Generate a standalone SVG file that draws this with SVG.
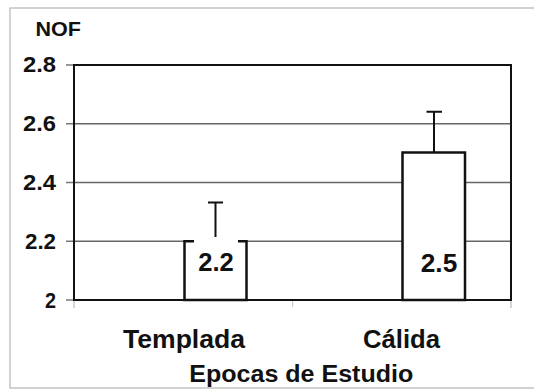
<svg xmlns="http://www.w3.org/2000/svg" width="534" height="391" viewBox="0 0 534 391">
<style>
text{font-family:"Liberation Sans",Arial,sans-serif;font-weight:bold;fill:#111}
.ax{font-size:22px;text-anchor:end}
.grid{stroke:#666;stroke-width:1.5;fill:none}
.tick{stroke:#777;stroke-width:1.5}
.bar{fill:#fff;stroke:#111;stroke-width:2.5}
.err{stroke:#111;stroke-width:2;fill:none}
.frame{fill:none;stroke:#111;stroke-width:2}
</style>
<rect width="534" height="391" fill="#fff"/>
<rect id="outer" x="10" y="8" width="530" height="380" fill="none" stroke="#b5b5b5" stroke-width="1.2"/>
<text id="ytitle" x="35.5" y="35.5" style="font-size:20px" textLength="45.5" lengthAdjust="spacingAndGlyphs">NOF</text>
<g id="gridlines">
<line class="grid" x1="74" y1="123.75" x2="511" y2="123.75"/>
<line class="grid" x1="74" y1="182.5" x2="511" y2="182.5"/>
<line class="grid" x1="74" y1="241.25" x2="511" y2="241.25"/>
</g>
<g id="ticks">
<line class="tick" x1="66" y1="65" x2="74" y2="65"/>
<line class="tick" x1="66" y1="123.75" x2="74" y2="123.75"/>
<line class="tick" x1="66" y1="182.5" x2="74" y2="182.5"/>
<line class="tick" x1="66" y1="241.25" x2="74" y2="241.25"/>
<line class="tick" x1="66" y1="300" x2="74" y2="300"/>
<line x1="74" y1="300" x2="74" y2="308" stroke="#bbb" stroke-width="1.2"/>
<line x1="292.5" y1="300" x2="292.5" y2="307" stroke="#ccc" stroke-width="1.2"/>
<line x1="511" y1="300" x2="511" y2="308" stroke="#bbb" stroke-width="1.2"/>
</g>
<g id="yaxis-labels">
<text class="ax" x="56" y="72" textLength="33" lengthAdjust="spacingAndGlyphs">2.8</text>
<text class="ax" x="56" y="131" textLength="33" lengthAdjust="spacingAndGlyphs">2.6</text>
<text class="ax" x="56" y="190" textLength="33" lengthAdjust="spacingAndGlyphs">2.4</text>
<text class="ax" x="56" y="248.5" textLength="31" lengthAdjust="spacingAndGlyphs">2.2</text>
<text class="ax" x="56" y="307.5" textLength="11" lengthAdjust="spacingAndGlyphs">2</text>
</g>
<g id="bar-templada">
<rect class="bar" x="184.5" y="241.25" width="62" height="58.75"/>
<rect x="194" y="236.5" width="44" height="42" fill="#fff"/>
<path class="err" d="M215.5 237V202.5M208 202.5H223"/>
<text x="216" y="271" style="font-size:25px" text-anchor="middle" textLength="35.5" lengthAdjust="spacingAndGlyphs">2.2</text>
</g>
<g id="bar-calida">
<rect class="bar" x="402.5" y="152.5" width="62.5" height="147.5"/>
<path class="err" d="M434 152.5V111.7M426.5 111.7H442"/>
<text x="439" y="272" style="font-size:25px" text-anchor="middle" textLength="36.5" lengthAdjust="spacingAndGlyphs">2.5</text>
</g>
<rect id="plot-frame" class="frame" x="74" y="65" width="437" height="235"/>
<g id="x-labels">
<text x="184" y="348" style="font-size:25px" text-anchor="middle" textLength="122" lengthAdjust="spacingAndGlyphs">Templada</text>
<text x="401.5" y="347.5" style="font-size:25px" text-anchor="middle" textLength="77" lengthAdjust="spacingAndGlyphs">Cálida</text>
<text x="301.3" y="382" style="font-size:23px" text-anchor="middle" textLength="224" lengthAdjust="spacingAndGlyphs">Epocas de Estudio</text>
</g>
</svg>
